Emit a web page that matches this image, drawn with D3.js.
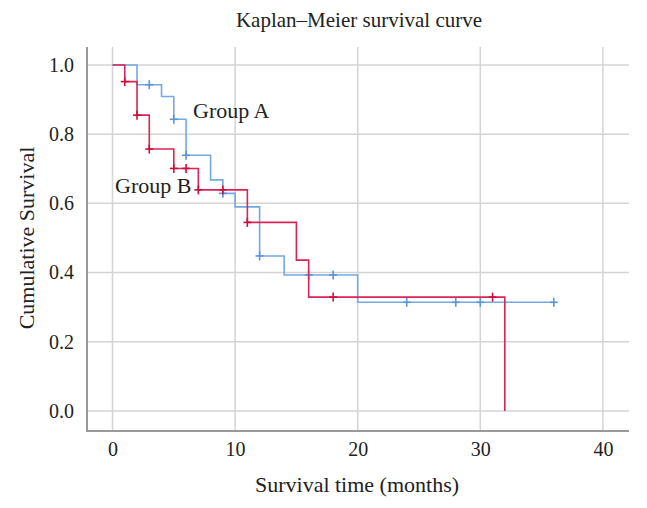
<!DOCTYPE html>
<html><head><meta charset="utf-8">
<script src="https://cdn.jsdelivr.net/npm/d3@7"></script>
<style>body{margin:0;background:#fff}svg{display:block}text{font-family:"Liberation Serif","DejaVu Serif",serif;fill:#222}</style>
</head><body><svg id="c" width="647" height="508"></svg>
<script>
// Data
const xTicks = [0, 10, 20, 30, 40];
const yTicks = [0.0, 0.2, 0.4, 0.6, 0.8, 1.0];
const groupATimes = [0, 2, 4, 5, 6, 8, 9, 10, 12, 14, 20];
const groupASurv  = [1.0, 0.943, 0.909, 0.843, 0.739, 0.668, 0.629, 0.590, 0.448, 0.393, 0.314];
const groupAEnd = 36;
const groupACensor = [3, 5, 6, 9, 12, 16, 18, 24, 28, 30, 36];
const groupBTimes = [0, 1, 2, 3, 5, 7, 11, 15, 16, 32];
const groupBSurv  = [1.0, 0.952, 0.855, 0.757, 0.701, 0.639, 0.545, 0.436, 0.329, 0.0];
const groupBEnd = 32;
const groupBCensor = [1, 2, 3, 5, 6, 7, 9, 11, 18, 31];

const svg = d3.select("#c");
const L = 87, R = 629, T = 47, B = 431;
const x = d3.scaleLinear().domain([-2.08, 42.13]).range([L, R]);
const y = d3.scaleLinear().domain([-0.058, 1.052]).range([B, T]);

// grid
svg.append("g").selectAll("line").data(yTicks).join("line")
  .attr("x1", L).attr("x2", R).attr("y1", d => y(d)).attr("y2", d => y(d))
  .attr("stroke", "#d4d4d4").attr("stroke-width", 1.5);
svg.append("g").selectAll("line").data(xTicks).join("line")
  .attr("y1", T).attr("y2", B).attr("x1", d => x(d)).attr("x2", d => x(d))
  .attr("stroke", "#d4d4d4").attr("stroke-width", 1.5);

// axes
const xa = svg.append("g").attr("transform", `translate(0,${B})`)
  .call(d3.axisBottom(x).tickValues(xTicks).tickSize(0).tickPadding(11).tickFormat(d3.format("d")));
xa.select(".domain").remove();
xa.selectAll("text").style("font-size", "20px").attr("fill", "#222");
const ya = svg.append("g").attr("transform", `translate(${L},0)`)
  .call(d3.axisLeft(y).tickValues(yTicks).tickSize(0).tickPadding(13).tickFormat(d3.format(".1f")));
ya.select(".domain").remove();
ya.selectAll("text").style("font-size", "20px").attr("fill", "#222");
svg.append("line").attr("x1", L).attr("x2", L).attr("y1", T).attr("y2", B + 1).attr("stroke", "#9a9a9a").attr("stroke-width", 2);
svg.append("line").attr("x1", L).attr("x2", R).attr("y1", B).attr("y2", B).attr("stroke", "#9a9a9a").attr("stroke-width", 2);

function stepAt(times, surv, t) {
  let v = surv[0];
  for (let i = 0; i < times.length; i++) if (times[i] <= t) v = surv[i];
  return v;
}
function drawGroup(times, surv, end, censor, color, mcolor) {
  const pts = times.map((t, i) => [t, surv[i]]);
  if (end > times[times.length - 1]) pts.push([end, surv[surv.length - 1]]);
  const line = d3.line().x(d => x(d[0])).y(d => y(d[1])).curve(d3.curveStepAfter);
  svg.append("path").attr("d", line(pts)).attr("fill", "none").attr("stroke", color).attr("stroke-width", 1.6);
  const g = svg.append("g").attr("stroke", mcolor).attr("stroke-width", 1.6);
  censor.forEach(t => {
    const cx = x(t), cy = y(stepAt(times, surv, t));
    g.append("line").attr("x1", cx - 4).attr("x2", cx + 4).attr("y1", cy).attr("y2", cy);
    g.append("line").attr("x1", cx).attr("x2", cx).attr("y1", cy - 4.5).attr("y2", cy + 4.5);
  });
}
drawGroup(groupATimes, groupASurv, groupAEnd, groupACensor, "#74a9e4", "#5b95d6");
drawGroup(groupBTimes, groupBSurv, groupBEnd, groupBCensor, "#dc2455", "#c8103f");

// labels
svg.append("text").attr("x", 193).attr("y", 118).style("font-size", "22px").text("Group A");
svg.append("text").attr("x", 115).attr("y", 193).style("font-size", "22px").text("Group B");
svg.append("text").attr("x", 359).attr("y", 27).attr("text-anchor", "middle").style("font-size", "21px").text("Kaplan–Meier survival curve");
svg.append("text").attr("x", 357).attr("y", 492).attr("text-anchor", "middle").style("font-size", "22px").text("Survival time (months)");
svg.append("text").attr("transform", "translate(34,238) rotate(-90)").attr("text-anchor", "middle").style("font-size", "22px").text("Cumulative Survival");
</script></body></html>
